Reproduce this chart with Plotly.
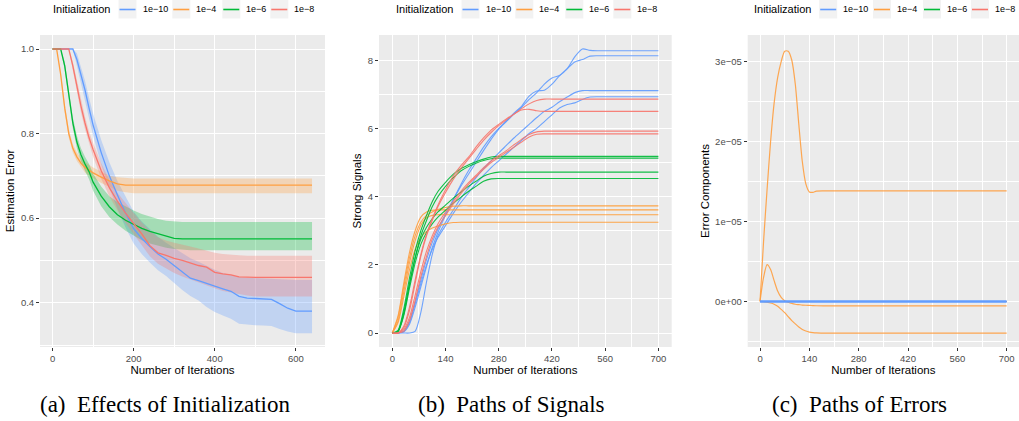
import plotly.graph_objects as go

W, H = 1019, 421

# ---------------- data ----------------
INIT_NAMES = ["1e\u221210", "1e\u22124", "1e\u22126", "1e\u22128"]
INIT_COLORS = ["#619CFF", "#FF9F40", "#00BA38", "#F8766D"]

# Panel (a): estimation error (mean line + ribbon)
X_A = [0, 10, 20, 30, 40, 50, 60, 70, 80, 90, 100, 120, 140, 160, 180, 200, 220, 240, 260,
       280, 300, 320, 340, 360, 380, 400, 420, 440, 460, 480, 500, 520, 540, 560, 580, 600, 620, 640]

A_BLUE_MEAN = [1, 1, 1, 1, 1, 1.0, 0.975, 0.94, 0.903, 0.86, 0.82, 0.755, 0.70, 0.655, 0.612, 0.575,
               0.552, 0.533, 0.515, 0.503, 0.488, 0.472, 0.458, 0.452, 0.445, 0.439, 0.433, 0.427,
               0.415, 0.411, 0.41, 0.409, 0.408, 0.398, 0.387, 0.38, 0.38, 0.38]
A_BLUE_HI = [1, 1, 1, 1, 1, 1.0, 0.99, 0.96, 0.925, 0.885, 0.847, 0.785, 0.732, 0.688, 0.65, 0.615,
             0.592, 0.573, 0.556, 0.542, 0.53, 0.518, 0.505, 0.497, 0.487, 0.478, 0.47, 0.465,
             0.461, 0.459, 0.458, 0.457, 0.456, 0.455, 0.455, 0.454, 0.454, 0.454]
A_BLUE_LO = [1, 1, 1, 1, 1, 1.0, 0.96, 0.92, 0.88, 0.835, 0.795, 0.727, 0.67, 0.622, 0.578, 0.54,
             0.515, 0.495, 0.477, 0.463, 0.446, 0.43, 0.416, 0.405, 0.39, 0.378, 0.37, 0.362,
             0.35, 0.348, 0.347, 0.346, 0.345, 0.338, 0.332, 0.328, 0.328, 0.328]

A_ORANGE_MEAN = [1.0, 1.0, 0.94, 0.86, 0.80, 0.765, 0.745, 0.73, 0.72, 0.713, 0.707, 0.697, 0.688,
                 0.681, 0.678] + [0.678] * 23
A_ORANGE_HI = [1.0, 1.0, 0.945, 0.87, 0.81, 0.775, 0.755, 0.742, 0.733, 0.726, 0.72, 0.71, 0.70,
               0.697, 0.695] + [0.694] * 23
A_ORANGE_LO = [1.0, 1.0, 0.935, 0.85, 0.79, 0.755, 0.735, 0.72, 0.708, 0.70, 0.694, 0.683, 0.674,
               0.665, 0.661] + [0.659] * 23

A_GREEN_MEAN = [1.0, 1.0, 1.0, 0.96, 0.89, 0.825, 0.78, 0.75, 0.728, 0.71, 0.685, 0.652, 0.627,
                0.608, 0.595, 0.585, 0.576, 0.569, 0.563, 0.558, 0.552, 0.551] + [0.551] * 16
A_GREEN_HI = [1.0, 1.0, 1.0, 0.97, 0.90, 0.838, 0.795, 0.765, 0.745, 0.728, 0.705, 0.675, 0.652,
              0.638, 0.628, 0.618, 0.61, 0.604, 0.598, 0.594, 0.592, 0.591] + [0.591] * 16
A_GREEN_LO = [1.0, 1.0, 1.0, 0.95, 0.88, 0.812, 0.765, 0.735, 0.712, 0.692, 0.665, 0.628, 0.603,
              0.585, 0.57, 0.558, 0.548, 0.54, 0.535, 0.53, 0.527, 0.525] + [0.524] * 16

A_RED_MEAN = [1, 1, 1, 1, 1.0, 0.96, 0.91, 0.865, 0.825, 0.79, 0.762, 0.712, 0.672, 0.64, 0.612,
              0.588, 0.563, 0.535, 0.518, 0.512, 0.505, 0.50, 0.494, 0.488, 0.484, 0.472, 0.468,
              0.466, 0.461, 0.46] + [0.46] * 8
A_RED_HI = [1, 1, 1, 1, 1.0, 0.97, 0.925, 0.88, 0.84, 0.805, 0.778, 0.73, 0.69, 0.66, 0.635,
            0.612, 0.59, 0.57, 0.555, 0.547, 0.542, 0.538, 0.533, 0.528, 0.523, 0.518, 0.515,
            0.513, 0.512, 0.511] + [0.511] * 8
A_RED_LO = [1, 1, 1, 1, 1.0, 0.95, 0.895, 0.85, 0.81, 0.775, 0.745, 0.693, 0.652, 0.618, 0.588,
            0.562, 0.537, 0.51, 0.492, 0.48, 0.47, 0.462, 0.455, 0.448, 0.44, 0.434, 0.428,
            0.424, 0.42, 0.417] + [0.415] * 8

A_MEANS = [A_BLUE_MEAN, A_ORANGE_MEAN, A_GREEN_MEAN, A_RED_MEAN]
A_HIS = [A_BLUE_HI, A_ORANGE_HI, A_GREEN_HI, A_RED_HI]
A_LOS = [A_BLUE_LO, A_ORANGE_LO, A_GREEN_LO, A_RED_LO]

# Panel (b): strong-signal paths
X_B = [0, 15, 30, 45, 60, 75, 90, 105, 120, 140, 160, 180, 200, 220, 240, 260, 280, 300, 320,
       340, 360, 380, 400, 420, 440, 460, 480, 500, 520, 540, 560, 700]

B_BLUE = [
    [0, 0, 0.05, 0.35, 0.9, 1.55, 2.15, 2.65, 3.05, 3.5, 3.9, 4.3, 4.65, 5.0, 5.35, 5.68, 5.98,
     6.2, 6.42, 6.62, 6.85, 7.05, 7.3, 7.48, 7.55, 7.75, 8.1, 8.33, 8.29, 8.28, 8.28, 8.28],
    [0, 0, 0.03, 0.25, 0.75, 1.35, 1.95, 2.5, 2.95, 3.45, 3.9, 4.35, 4.75, 5.1, 5.45, 5.75, 6.0,
     6.22, 6.45, 6.65, 6.95, 7.1, 7.12, 7.3, 7.55, 7.75, 7.95, 8.02, 8.12, 8.13, 8.13, 8.13],
    [0, 0, 0, 0, 0.05, 0.6, 1.5, 2.3, 2.85, 3.25, 3.6, 3.95, 4.25, 4.55, 4.82, 5.05, 5.28, 5.5,
     5.72, 5.92, 6.12, 6.32, 6.5, 6.62, 6.78, 6.92, 7.05, 7.11, 7.11, 7.11, 7.11, 7.11],
    [0, 0, 0.05, 0.3, 0.85, 1.45, 2.0, 2.45, 2.8, 3.15, 3.5, 3.82, 4.1, 4.38, 4.62, 4.85, 5.05,
     5.25, 5.45, 5.65, 5.85, 6.0, 6.2, 6.4, 6.6, 6.7, 6.75, 6.85, 6.92, 6.93, 6.93, 6.93],
]
B_ORANGE = [
    [0, 0.45, 1.35, 2.2, 2.85, 3.25, 3.45, 3.55, 3.62, 3.68, 3.72, 3.73] + [3.73] * 20,
    [0, 0.5, 1.45, 2.35, 3.0, 3.4, 3.55, 3.6, 3.61] + [3.61] * 23,
    [0, 0.35, 1.2, 2.05, 2.7, 3.15, 3.38, 3.45, 3.47] + [3.47] * 23,
    [0, 0.3, 1.05, 1.85, 2.45, 2.8, 2.98, 3.08, 3.14, 3.2, 3.24, 3.25] + [3.25] * 20,
]
B_GREEN = [
    [0, 0.08, 0.7, 1.6, 2.4, 3.0, 3.45, 3.85, 4.15, 4.42, 4.65, 4.82, 4.93, 5.02, 5.1, 5.16,
     5.18] + [5.18] * 15,
    [0, 0.05, 0.55, 1.4, 2.2, 2.85, 3.3, 3.7, 4.0, 4.3, 4.55, 4.75, 4.88, 4.98, 5.06, 5.11,
     5.13] + [5.13] * 15,
    [0, 0.05, 0.6, 1.45, 2.2, 2.75, 3.1, 3.35, 3.55, 3.75, 3.95, 4.12, 4.3, 4.45, 4.6, 4.68,
     4.72] + [4.72] * 15,
    [0, 0.04, 0.5, 1.3, 2.05, 2.6, 2.95, 3.2, 3.4, 3.6, 3.8, 3.98, 4.15, 4.3, 4.45, 4.52,
     4.53] + [4.53] * 15,
]
B_RED = [
    [0, 0, 0.15, 0.65, 1.45, 2.25, 2.85, 3.3, 3.7, 4.12, 4.5, 4.82, 5.1, 5.38, 5.65, 5.88, 6.08,
     6.25, 6.42, 6.58, 6.72, 6.82, 6.86] + [6.86] * 9,
    [0, 0, 0.2, 0.75, 1.55, 2.3, 2.9, 3.35, 3.75, 4.2, 4.6, 4.9, 5.15, 5.45, 5.72, 5.95, 6.12,
     6.28, 6.42, 6.54, 6.56, 6.52, 6.5] + [6.5] * 9,
    [0, 0, 0.1, 0.45, 1.1, 1.8, 2.4, 2.85, 3.2, 3.55, 3.85, 4.15, 4.4, 4.62, 4.85, 5.05, 5.2,
     5.35, 5.52, 5.68, 5.82, 5.9, 5.92] + [5.92] * 9,
    [0, 0, 0.05, 0.35, 0.95, 1.65, 2.25, 2.75, 3.1, 3.45, 3.78, 4.08, 4.35, 4.58, 4.8, 5.0, 5.15,
     5.3, 5.45, 5.6, 5.75, 5.83, 5.84] + [5.84] * 9,
]
B_GROUPS = [B_BLUE, B_ORANGE, B_GREEN, B_RED]

# Panel (c): error components, in units of 1e-5
ERR_UNIT = 1e-5
X_C = [0, 10, 20, 30, 40, 50, 60, 70, 80, 90, 100, 110, 120, 130, 140, 150, 160, 180, 200, 700]
C_ORANGE = [
    [0, 0.75, 1.4, 2.0, 2.48, 2.8, 3.0, 3.13, 3.13, 3.02, 2.72, 2.22, 1.75, 1.47, 1.37, 1.365,
     1.38, 1.383, 1.383, 1.383],
    [0, 0.3, 0.46, 0.4, 0.26, 0.13, 0.05, 0.01, -0.01, -0.025, -0.035, -0.04, -0.045, -0.048,
     -0.05, -0.052, -0.054, -0.055, -0.055, -0.055],
    [0, -0.002, -0.01, -0.02, -0.035, -0.06, -0.1, -0.14, -0.19, -0.24, -0.28, -0.32, -0.35,
     -0.37, -0.383, -0.39, -0.394, -0.396, -0.396, -0.396],
]
C_ZERO_X = [0, 700]
C_ZERO = [0, 0]

for arrs, xs in [(A_MEANS + A_HIS + A_LOS, X_A)] + [(g, X_B) for g in B_GROUPS] + [(C_ORANGE, X_C)]:
    for a in arrs:
        assert len(a) == len(xs), (len(a), len(xs))

# ---------------- figure ----------------
fig = go.Figure()


def rgba(hexc, a):
    h = hexc.lstrip("#")
    return "rgba(%d,%d,%d,%.2f)" % (int(h[0:2], 16), int(h[2:4], 16), int(h[4:6], 16), a)


# Panel (a) ribbons then lines
for i in range(4):
    col = INIT_COLORS[i]
    fig.add_trace(go.Scatter(x=X_A, y=A_LOS[i], mode="lines", line=dict(width=0, color=col),
                             xaxis="x", yaxis="y", showlegend=False, hoverinfo="skip"))
    fig.add_trace(go.Scatter(x=X_A, y=A_HIS[i], mode="lines", line=dict(width=0, color=col),
                             fill="tonexty", fillcolor=rgba(col, 0.3),
                             xaxis="x", yaxis="y", showlegend=False, hoverinfo="skip"))
for i in range(4):
    fig.add_trace(go.Scatter(x=X_A, y=A_MEANS[i], mode="lines", name=INIT_NAMES[i],
                             line=dict(width=1.3, color=INIT_COLORS[i]),
                             xaxis="x", yaxis="y", showlegend=False))

# Panel (b)
for i, grp in enumerate(B_GROUPS):
    for ys in grp:
        fig.add_trace(go.Scatter(x=X_B, y=ys, mode="lines", name=INIT_NAMES[i],
                                 line=dict(width=1.1, color=INIT_COLORS[i], shape="spline", smoothing=0.7),
                                 opacity=0.9, xaxis="x2", yaxis="y2", showlegend=False))

# Panel (c)
for i in [2, 3]:
    fig.add_trace(go.Scatter(x=C_ZERO_X, y=C_ZERO, mode="lines", name=INIT_NAMES[i],
                             line=dict(width=1.1, color=INIT_COLORS[i]),
                             xaxis="x3", yaxis="y3", showlegend=False))
for ys in C_ORANGE:
    fig.add_trace(go.Scatter(x=X_C, y=[v * ERR_UNIT for v in ys], mode="lines", name=INIT_NAMES[1],
                             line=dict(width=1.2, color=INIT_COLORS[1], shape="spline", smoothing=0.7),
                             opacity=0.9, xaxis="x3", yaxis="y3", showlegend=False))
fig.add_trace(go.Scatter(x=C_ZERO_X, y=C_ZERO, mode="lines", name=INIT_NAMES[0],
                         line=dict(width=2.6, color=INIT_COLORS[0]),
                         xaxis="x3", yaxis="y3", showlegend=False))

# ---------------- axes ----------------
FONT = "Liberation Sans, Arial, sans-serif"
Y_DOM = [1 - 347 / H, 1 - 35 / H]


def axis(dom, rng, tickvals, ticktext, minor_vals, title, standoff, anchor):
    return dict(domain=dom, range=rng, anchor=anchor, tickmode="array", tickvals=tickvals,
                ticktext=ticktext, ticks="outside", ticklen=3, tickwidth=1, tickcolor="#333333",
                tickfont=dict(size=9.5, color="#4D4D4D", family=FONT),
                showgrid=True, gridcolor="white", gridwidth=1.1, zeroline=False, showline=False,
                minor=dict(tickvals=minor_vals, showgrid=True, gridcolor="white", gridwidth=0.55,
                           ticks=""),
                title=dict(text=title, font=dict(size=11.5, color="black", family=FONT),
                           standoff=standoff),
                fixedrange=True)


XT_A = [0, 200, 400, 600]
XT_B = [0, 140, 280, 420, 560, 700]
YT_A = [0.4, 0.6, 0.8, 1.0]
YT_B = [0, 2, 4, 6, 8]
YT_C = [0, 1e-5, 2e-5, 3e-5]

fig.update_layout(
    xaxis=axis([40 / W, 325 / W], [-31, 672], XT_A, [str(v) for v in XT_A], [100, 300, 500],
               "Number of Iterations", 2, "y"),
    yaxis=axis(Y_DOM, [0.2953, 1.0331], YT_A, ["%.1f" % v for v in YT_A], [0.3, 0.5, 0.7, 0.9],
               "Estimation Error", 3, "x"),
    xaxis2=axis([379 / W, 671.7 / W], [-35, 735], XT_B, [str(v) for v in XT_B],
                [70, 210, 350, 490, 630], "Number of Iterations", 2, "y2"),
    yaxis2=axis(Y_DOM, [-0.41, 8.74], YT_B, [str(v) for v in YT_B], [1, 3, 5, 7],
                "Strong Signals", 3, "x2"),
    xaxis3=axis([747.7 / W, 1.0], [-35, 735], XT_B, [str(v) for v in XT_B],
                [70, 210, 350, 490, 630], "Number of Iterations", 2, "y3"),
    yaxis3=axis(Y_DOM, [-0.57e-5, 3.333e-5], YT_C,
                ["0e+00", "1e\u221205", "2e\u221205", "3e\u221205"],
                [-0.5e-5, 0.5e-5, 1.5e-5, 2.5e-5], "Error Components", 3, "x3"),
)

# ---------------- legends (one per panel, ggplot style) ----------------
LEGEND_X0 = [52, 395, 752.7]
KEY_OFFSETS = [66.5, 120.3, 170.3, 218.3]
for x0 in LEGEND_X0:
    fig.add_annotation(x=x0 / W, y=1 - 9.5 / H, xref="paper", yref="paper", text="Initialization",
                       showarrow=False, xanchor="left", yanchor="middle",
                       font=dict(size=11, color="black", family=FONT), borderpad=0)
    for off, name, col in zip(KEY_OFFSETS, INIT_NAMES, INIT_COLORS):
        kx = x0 + off
        fig.add_shape(type="rect", xref="paper", yref="paper", x0=kx / W, x1=(kx + 18) / W,
                      y0=1 - 18.5 / H, y1=1, fillcolor="#F2F2F2", line=dict(width=0))
        fig.add_shape(type="line", xref="paper", yref="paper", x0=(kx + 1) / W, x1=(kx + 17) / W,
                      y0=1 - 9.5 / H, y1=1 - 9.5 / H, line=dict(color=col, width=1.6))
        fig.add_annotation(x=(kx + 23) / W, y=1 - 9.5 / H, xref="paper", yref="paper", text=name,
                           showarrow=False, xanchor="left", yanchor="middle",
                           font=dict(size=9, color="black", family=FONT), borderpad=0)

# ---------------- captions ----------------
CAPTIONS = ["(a)\u00a0 Effects of Initialization", "(b)\u00a0 Paths of Signals",
            "(c)\u00a0 Paths of Errors"]
CAP_X = [165, 511, 859]
for cx, txt in zip(CAP_X, CAPTIONS):
    fig.add_annotation(x=cx / W, y=1 - 404 / H, xref="paper", yref="paper", text=txt,
                       showarrow=False, xanchor="center", yanchor="middle",
                       font=dict(size=23, color="black", family="Liberation Serif, Times New Roman, serif"))

fig.update_layout(
    width=W, height=H, margin=dict(l=0, r=0, t=0, b=0),
    paper_bgcolor="white", plot_bgcolor="#EBEBEB",
    font=dict(family=FONT, color="black"), showlegend=False,
)

fig.write_html("out.html", config={"displayModeBar": False})
